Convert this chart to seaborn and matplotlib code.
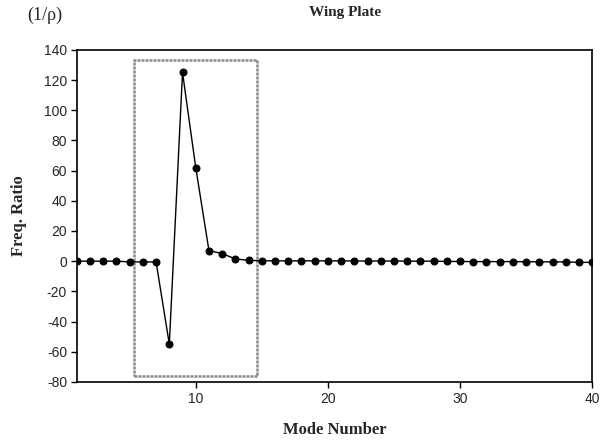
import matplotlib
matplotlib.use("Agg")
import matplotlib.pyplot as plt
from matplotlib.patches import Rectangle
import seaborn as sns
import pandas as pd

# Frequency ratio per mode of the wing plate
modes = list(range(1, 41))
freq_ratio = [0.0, 0.0, 0.0, 0.0, -0.5, -0.5, -0.5, -55.0, 125.0, 62.0,
              7.0, 5.0, 1.5, 0.5, 0.3, 0.2, 0.2, 0.2, 0.2, 0.2,
              0.2, 0.1, 0.1, 0.1, 0.1, 0.0, 0.0, 0.0, -0.2, -0.2,
              -0.3, -0.3, -0.3, -0.3, -0.4, -0.4, -0.5, -0.5, -0.8, -0.8]

x_ticks = [10, 20, 30, 40]
y_ticks = list(range(-80, 141, 20))

# Highlighted mode window (mode range and ratio range)
box_modes = (5.3, 14.6)
box_ratio = (-76, 133)

df = pd.DataFrame({"mode": modes, "ratio": freq_ratio})

sns.set_theme(style="white")
plt.rcParams["axes.unicode_minus"] = False
serif = ["Liberation Serif", "DejaVu Serif"]
sans = ["Liberation Sans", "DejaVu Sans"]

fig = plt.figure(figsize=(6.0, 4.41), dpi=100)
ax = fig.add_axes([0.128, 0.134, 0.859, 0.753])

sns.lineplot(data=df, x="mode", y="ratio", ax=ax, color="black",
             linewidth=1.0, marker="o", markersize=5.0,
             markeredgecolor="black", markerfacecolor="black")

ax.add_patch(Rectangle((box_modes[0], box_ratio[0]),
                       box_modes[1] - box_modes[0], box_ratio[1] - box_ratio[0],
                       fill=False, edgecolor="#8a8a8a", linewidth=1.8,
                       linestyle=(0, (1.2, 0.4)), zorder=1))

ax.set_xlim(1, 40)
ax.set_ylim(-80, 140)
ax.set_xticks(x_ticks)
ax.set_yticks(y_ticks)
for lab in ax.get_xticklabels() + ax.get_yticklabels():
    lab.set_family(sans)
    lab.set_fontsize(10)
ax.tick_params(axis="both", direction="out", length=4, width=1, color="black",
               bottom=True, left=True, pad=3)

for sp in ax.spines.values():
    sp.set_color("black")
    sp.set_linewidth(1.2)

ax.set_xlabel("Mode Number", family=serif, fontweight="bold", fontsize=12,
              labelpad=12)
ax.set_ylabel("Freq. Ratio", family=serif, fontweight="bold", fontsize=12,
              labelpad=12)

fig.text(0.575, 0.972, "Wing Plate", family=serif, fontweight="bold",
         fontsize=11, ha="center", va="center")
fig.text(0.075, 0.966, "(1/ρ)", family=serif, fontsize=13,
         ha="center", va="center")

fig.savefig("out.png", dpi=100, facecolor="white")
